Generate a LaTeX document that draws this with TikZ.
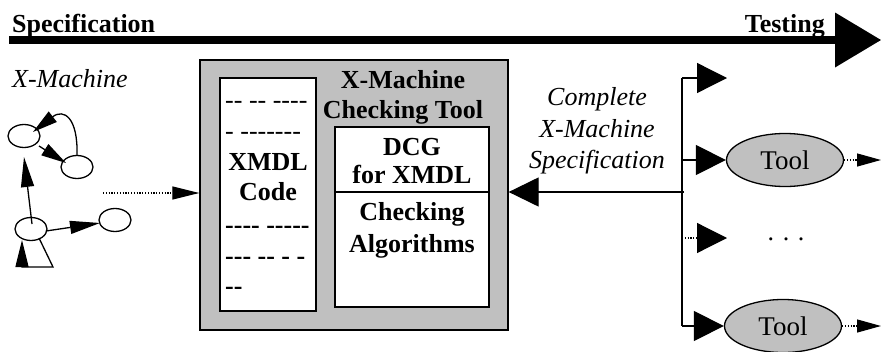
\documentclass[tikz,border=0pt]{standalone}
\usepackage{fontspec}
\setmainfont{Liberation Serif}
% plain hyphens for the code listing (no en-dash ligature)
\newfontfamily\codefont{Liberation Serif}[Ligatures=TeXOff]
\usetikzlibrary{arrows.meta,shapes.geometric,calc}
\definecolor{boxgray}{RGB}{192,192,192}

\begin{document}
\begin{tikzpicture}[x=1pt,y=-1pt,
  boldlbl/.style={inner sep=0pt, anchor=base, font=\fontsize{26}{30}\selectfont\bfseries},
  itlbl/.style={inner sep=0pt, anchor=base, font=\fontsize{26}{30}\selectfont\itshape},
  codeline/.style={inner sep=0pt, anchor=base west, font=\fontsize{26}{30}\selectfont\codefont},
  boldcode/.style={codeline, font=\fontsize{26}{30}\selectfont\codefont\bfseries},
  gnode/.style={ellipse, draw, line width=1.3pt, minimum width=32pt, minimum height=23pt, inner sep=0pt},
  gedge/.style={line width=1.3pt, -{Triangle[length=#1,width=13pt]}},
  gedge/.default=28pt,
  panel/.style={draw, line width=1.3pt, inner sep=0pt},
  toolnode/.style={ellipse, draw, fill=boxgray, line width=1.3pt, minimum width=117pt, minimum height=53pt, inner sep=0pt, font=\fontsize{27}{30}\selectfont},
  fanarrow/.style={line width=1.3pt, -{Triangle[length=30pt,width=30pt]}},
  dotline/.style={line width=1.2pt, dash pattern=on 1.2pt off 1.6pt},
  smallhead/.style={-{Triangle[length=#1,width=13pt]}},
  smallhead/.default=24pt
]
\useasboundingbox (0,0) rectangle (881,351);

% time line from specification to testing
\node[boldlbl, anchor=base west] (spec) at (12,32) {Specification};
\node[boldlbl, anchor=base east] (test) at (825,32) {Testing};
\coordinate (tlA) at (9,40);
\coordinate (tlB) at (881,40);
\draw[line width=8pt, -{Triangle[length=46pt,width=55pt,line width=0pt]}] (tlA) -- (tlB);

% a small X-machine state diagram
\node[itlbl, anchor=base west] (xm) at (12,87) {X-Machine};
\node[gnode] (gA) at (24,136) {};
\node[gnode] (gB) at (77,167) {};
\node[gnode] (gC) at (31,229) {};
\node[gnode] (gD) at (115,220) {};
\draw[gedge=25pt] (gB.north) .. controls (78,118) and (64,108) .. ([shift={(9,-4)}]gA.center);
\draw[gedge=25pt] ([shift={(15,10)}]gA.center) -- ([shift={(-11,-4)}]gB.center);
\draw[gedge=30pt] ([shift={(1,-5)}]gC.center) -- ([shift={(0,21)}]gA.center);
\draw[gedge=30pt] ([shift={(15,2)}]gC.center) -- ([shift={(-15,3)}]gD.center);
\draw[gedge=27pt] ([shift={(8,9)}]gC.center) -- ([shift={(22,38)}]gC.center)
  -- ([shift={(-9,38)}]gC.center) -- ([shift={(-9,11)}]gC.center);

% checking tool
\node[panel, fill=boxgray, minimum width=308pt, minimum height=270pt] (chk) at (354,195) {};
\node[panel, fill=white, minimum width=96pt, minimum height=233pt] (code) at (268,194.5) {};
\node[panel, fill=white, minimum width=154pt, minimum height=65pt] (dcg) at (412,159.5) {};
\node[panel, fill=white, minimum width=154pt, minimum height=115pt] (alg) at (412,249.5) {};

\node[boldlbl] (ttl1) at (403,88) {X-Machine};
\node[boldlbl] (ttl2) at (403,118) {Checking Tool};
\node[boldlbl] (xmdl) at (268,170) {XMDL};
\node[boldlbl] (codet) at (268,200) {Code};
\node[boldlbl] (dcg1) at (412,155) {DCG};
\node[boldlbl] (dcg2) at (412,183) {for XMDL};
\node[boldlbl] (alg1) at (412,220) {Checking};
\node[boldlbl] (alg2) at (412,252) {Algorithms};

\node[codeline] (c1) at (225,108) {-- -- ----};
\node[codeline] (c2) at (225,139) {- -------};
\node[boldcode] (c3) at (225,233) {---- -----};
\node[boldcode] (c4) at (225,264) {--- -- - -};
\node[boldcode] (c5) at (225,294) {--};

% diagram fed into the tool
\coordinate (gout) at (103,193);
\draw[dotline, smallhead=27pt] (gout) -- (gout -| chk.west);

% complete specification handed back
\node[itlbl] (cs1) at (597,105) {Complete};
\node[itlbl] (cs2) at (597,137) {X-Machine};
\node[itlbl] (cs3) at (597,168) {Specification};
\coordinate (fanTop) at (682,78);
\coordinate (fanBot) at (682,326);
\coordinate (fanMid) at (684,192);
\draw[line width=1.3pt] (fanTop) -- (fanBot);
\draw[fanarrow, -{Triangle[length=30pt,width=29pt]}] (fanMid) -- (fanMid -| chk.east);

% testing tools
\node[toolnode] (t1) at (785,160) {Tool};
\node[toolnode] (t2) at (783,326) {Tool};
\coordinate (b0tip) at (727,78);
\coordinate (b2s) at (682,238);
\coordinate (b2t) at (727,238);
\draw[fanarrow] (fanTop) -- (b0tip);
\draw[fanarrow] (t1.west -| fanTop) -- (t1.west);
\draw[fanarrow, dotline] (b2s) -- (b2t);
\draw[fanarrow] (fanBot) -- (t2.west);
\node[inner sep=0pt, anchor=base, font=\fontsize{26}{30}\selectfont] (more) at (786,240) {. . .};

\coordinate (o1) at (881,160);
\coordinate (o2) at (881,326);
\draw[dotline, smallhead] (t1.east) -- (o1);
\draw[dotline, smallhead] (t2.east) -- (o2);
\end{tikzpicture}
\end{document}
